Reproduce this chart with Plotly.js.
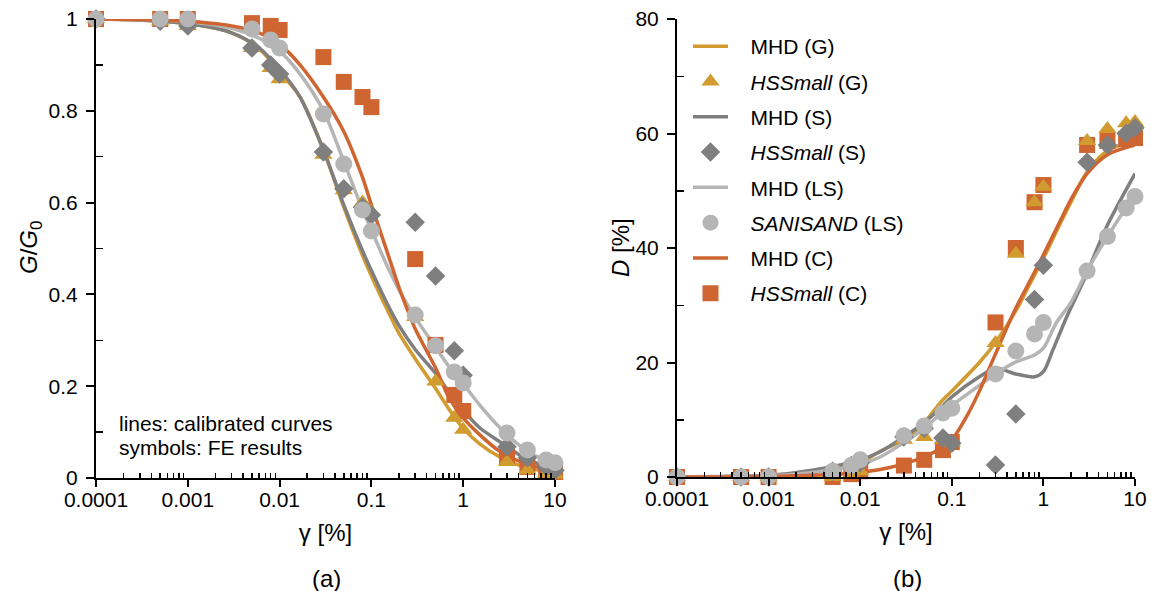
<!DOCTYPE html>
<html>
<head>
<meta charset="utf-8">
<script src="https://cdn.plot.ly/plotly-3.0.1.min.js"></script>
<style>html,body{margin:0;padding:0;background:#fff;}#chart{width:1151px;height:591px;}</style>
</head>
<body>
<div id="chart"></div>
<script>
// ---------- FE result strain levels (%) ----------
const gammaFE = [0.0001, 0.0005, 0.001, 0.005, 0.008, 0.01, 0.03, 0.05, 0.08, 0.1, 0.3, 0.5, 0.8, 1, 3, 5, 8, 10];

// ---------- (a) G/G0 symbols ----------
const gg0_HSS_G  = [1.0, 0.995, 0.985, 0.937, 0.893, 0.869, 0.704, 0.627, 0.600, 0.580, 0.351, 0.210, 0.131, 0.105, 0.035, 0.017, 0.010, 0.007];
const gg0_HSS_S  = [1.0, 0.995, 0.985, 0.937, 0.900, 0.880, 0.710, 0.630, 0.590, 0.573, 0.557, 0.440, 0.277, 0.224, 0.068, 0.044, 0.025, 0.017];
const gg0_SANI_LS = [1.0, 1.0, 1.0, 0.978, 0.954, 0.937, 0.793, 0.684, 0.584, 0.538, 0.355, 0.288, 0.231, 0.207, 0.098, 0.061, 0.039, 0.033];
const gg0_HSS_C  = [1.0, 1.0, 1.0, 0.991, 0.985, 0.976, 0.917, 0.863, 0.830, 0.808, 0.477, 0.290, 0.181, 0.146, 0.046, 0.024, 0.017, 0.013];

// ---------- (a) G/G0 calibrated curves ----------
const gammaCurveA = [0.0001, 0.0003, 0.001, 0.003, 0.006, 0.01, 0.0167, 0.03, 0.05, 0.08, 0.1, 0.15, 0.2, 0.3, 0.5, 0.7, 1, 1.5, 2.5, 5, 10];
const gg0_MHD_G  = [1.0, 0.998, 0.990, 0.970, 0.935, 0.885, 0.830, 0.715, 0.590, 0.485, 0.440, 0.365, 0.315, 0.260, 0.195, 0.150, 0.108, 0.075, 0.046, 0.022, 0.011];
const gg0_MHD_S  = [1.0, 0.998, 0.990, 0.970, 0.937, 0.890, 0.830, 0.715, 0.595, 0.495, 0.452, 0.378, 0.332, 0.280, 0.228, 0.187, 0.148, 0.110, 0.079, 0.040, 0.021];
const gg0_MHD_LS = [1.0, 0.999, 0.994, 0.980, 0.958, 0.930, 0.880, 0.800, 0.690, 0.585, 0.540, 0.460, 0.410, 0.350, 0.285, 0.243, 0.205, 0.160, 0.110, 0.058, 0.030];
const gg0_MHD_C  = [1.0, 0.999, 0.995, 0.985, 0.970, 0.945, 0.900, 0.830, 0.755, 0.655, 0.595, 0.490, 0.415, 0.325, 0.240, 0.175, 0.131, 0.095, 0.058, 0.030, 0.017];

// ---------- (b) D symbols (%) ----------
const d_HSS_G   = [0, 0, 0, 0, 0.5, 1, 6.5, 7, 6.5, 6, 23.4, 39, 48, 50.7, 58.7, 60.8, 61.8, 62];
const d_HSS_S   = [0, 0, 0, 1, 2, 2.5, 7, 8.5, 6.8, 5.9, 2.1, 11, 31, 37, 55, 58, 60, 61];
const d_SANI_LS = [0, 0, 0, 1, 2, 3, 7.2, 8.9, 11.2, 12, 18, 22, 25, 27, 36, 42, 47, 49];
const d_HSS_C   = [0, 0, 0, 0, 0.5, 1, 2, 3, 4.7, 6.1, 27, 40, 48, 51, 58, 58.7, 59, 59.2];

// ---------- (b) D calibrated curves (%) ----------
const gammaCurveB_G = [0.0001, 0.0003, 0.001, 0.003, 0.01, 0.0165, 0.03, 0.05, 0.075, 0.1, 0.2, 0.3, 0.5, 0.7, 1, 1.5, 2, 3, 5, 10];
const d_MHD_G       = [0, 0.05, 0.2, 0.8, 2.5, 4.5, 6.5, 9.5, 13, 15, 20, 23.5, 29, 33.5, 38.2, 44, 48, 53.3, 57, 58.8];
const gammaCurveB_C = [0.0001, 0.0003, 0.001, 0.003, 0.01, 0.0165, 0.03, 0.05, 0.075, 0.1, 0.15, 0.2, 0.3, 0.5, 0.7, 1, 1.5, 2, 3, 5, 10];
const d_MHD_C       = [0, 0.02, 0.1, 0.3, 0.8, 1.3, 2.3, 3.5, 5, 6.5, 11, 15, 21.5, 29.5, 34, 38.8, 44.5, 48.5, 53, 56.3, 58];
const gammaCurveB_S = [0.0001, 0.0003, 0.001, 0.003, 0.01, 0.0165, 0.03, 0.05, 0.075, 0.1, 0.2, 0.3, 0.5, 0.8, 1, 1.27, 1.8, 2.77, 5, 10];
const d_MHD_S       = [0, 0.1, 0.3, 1.2, 3, 4.4, 7, 9.5, 12, 14, 17.5, 19, 18, 17.5, 18.4, 22.2, 28, 34.4, 44, 53];
const gammaCurveB_LS = [0.0001, 0.0003, 0.001, 0.003, 0.01, 0.0165, 0.03, 0.05, 0.075, 0.1, 0.2, 0.3, 0.5, 0.8, 1, 1.38, 2, 3, 5, 8, 10];
const d_MHD_LS       = [0, 0.05, 0.2, 0.8, 2.2, 3.5, 6, 8.5, 11, 12.5, 16, 18, 20.1, 21.3, 22.5, 26.9, 30.5, 36, 42, 47, 49];

// ---------- tick labels ----------
const xTickVals = [0.0001, 0.001, 0.01, 0.1, 1, 10];
const xTickText = ['0.0001', '0.001', '0.01', '0.1', '1', '10'];
const yTickValsA = [0, 0.2, 0.4, 0.6, 0.8, 1];
const yTickTextA = ['0', '0.2', '0.4', '0.6', '0.8', '1'];
const yMinorA = [0.1, 0.3, 0.5, 0.7, 0.9];
const yTickValsB = [0, 20, 40, 60, 80];
const yMinorB = [10, 30, 50, 70];

const xMinor = [];
xTickVals.slice(0, -1).forEach(function (d) { for (let k = 2; k <= 9; k++) xMinor.push(+(d * k).toPrecision(3)); });

// ---------- styles ----------
const cGold = '#D29B2F', cGray = '#7F7F7F', cLight = '#B5B5B5', cOrange = '#CF6530';
const FONT = 'Liberation Sans, Arial, Helvetica, sans-serif';
const f21 = {family: FONT, size: 21, color: '#000'};
const f24 = {family: FONT, size: 24, color: '#000'};
const LW = 3.5;
const PAD = '\u00a0\u00a0\u00a0';

function lineTrace(x, y, color, name, xa, ya, rank, show) {
  return {x: x, y: y, xaxis: xa, yaxis: ya, type: 'scatter', mode: 'lines', name: PAD + name,
    line: {color: color, width: LW, shape: 'spline', smoothing: 0.8},
    showlegend: show, legendgroup: name, legendrank: rank, cliponaxis: false, hoverinfo: 'skip'};
}
function markTrace(x, y, color, symbol, size, name, xa, ya, rank, show) {
  return {x: x, y: y, xaxis: xa, yaxis: ya, type: 'scatter', mode: 'markers', name: PAD + name,
    marker: {color: color, symbol: symbol, size: size, line: {width: 0}},
    showlegend: show, legendgroup: name, legendrank: rank, cliponaxis: false, hoverinfo: 'skip'};
}

const nG = 'MHD (G)', nHG = '<i>HSSmall</i> (G)', nS = 'MHD (S)', nHS = '<i>HSSmall</i> (S)',
      nLS = 'MHD (LS)', nSL = '<i>SANISAND</i> (LS)', nC = 'MHD (C)', nHC = '<i>HSSmall</i> (C)';

const traces = [
  // (a) lines
  lineTrace(gammaCurveA, gg0_MHD_G, cGold, nG, 'x', 'y', 1, false),
  lineTrace(gammaCurveA, gg0_MHD_S, cGray, nS, 'x', 'y', 3, false),
  lineTrace(gammaCurveA, gg0_MHD_LS, cLight, nLS, 'x', 'y', 5, false),
  lineTrace(gammaCurveA, gg0_MHD_C, cOrange, nC, 'x', 'y', 7, false),
  // (b) lines
  lineTrace(gammaCurveB_G, d_MHD_G, cGold, nG, 'x2', 'y2', 1, true),
  lineTrace(gammaCurveB_S, d_MHD_S, cGray, nS, 'x2', 'y2', 3, true),
  lineTrace(gammaCurveB_LS, d_MHD_LS, cLight, nLS, 'x2', 'y2', 5, true),
  lineTrace(gammaCurveB_C, d_MHD_C, cOrange, nC, 'x2', 'y2', 7, true),
  // (a) symbols
  markTrace(gammaFE, gg0_HSS_C, cOrange, 'square', 16, nHC, 'x', 'y', 8, false),
  markTrace(gammaFE, gg0_HSS_G, cGold, 'triangle-up', 16, nHG, 'x', 'y', 2, false),
  markTrace(gammaFE, gg0_HSS_S, cGray, 'diamond', 15, nHS, 'x', 'y', 4, false),
  markTrace(gammaFE, gg0_SANI_LS, cLight, 'circle', 17, nSL, 'x', 'y', 6, false),
  // (b) symbols
  markTrace(gammaFE, d_HSS_C, cOrange, 'square', 16, nHC, 'x2', 'y2', 8, true),
  markTrace(gammaFE, d_HSS_G, cGold, 'triangle-up', 16, nHG, 'x2', 'y2', 2, true),
  markTrace(gammaFE, d_HSS_S, cGray, 'diamond', 15, nHS, 'x2', 'y2', 4, true),
  markTrace(gammaFE, d_SANI_LS, cLight, 'circle', 17, nSL, 'x2', 'y2', 6, true)
];

const W = 1151, H = 591;
const domXA = [96 / W, 555 / W], domXB = [677 / W, 1135 / W];
const domYA = [(H - 478) / H, (H - 19) / H], domYB = [(H - 477) / H, (H - 19) / H];

function xAxis(dom, anchor, title) {
  return {type: 'log', domain: dom, range: [-4, 1], anchor: anchor,
    showline: true, linewidth: 2, linecolor: '#000', showgrid: false, zeroline: false,
    ticks: 'outside', ticklen: 7, tickwidth: 2, tickcolor: '#000',
    tickmode: 'array', tickvals: xTickVals, ticktext: xTickText, tickfont: f21, ticklabelstandoff: -5,
    minor: {ticks: 'inside', ticklen: 5, tickwidth: 1.5, tickcolor: '#000', tickmode: 'array', tickvals: xMinor, showgrid: false},
    title: {text: title, font: f24, standoff: 14}, automargin: false, fixedrange: true};
}
function xOver(over, anchor, dom) {
  return {type: 'log', overlaying: over, anchor: anchor, domain: dom, range: [-4, 1],
    showline: false, showgrid: false, zeroline: false, showticklabels: false,
    ticks: 'inside', ticklen: 8, tickwidth: 2, tickcolor: '#000', tickmode: 'array', tickvals: xTickVals, fixedrange: true};
}
function yAxis(dom, anchor, range, tv, tt, minor) {
  const a = {domain: dom, range: range, anchor: anchor,
    showline: true, linewidth: 2, linecolor: '#000', showgrid: false, zeroline: false,
    ticks: 'outside', ticklen: 8, tickwidth: 2, tickcolor: '#000',
    tickmode: 'array', tickvals: tv, tickfont: f21, ticklabelstandoff: 4,
    minor: {ticks: 'inside', ticklen: 7, tickwidth: 1.5, tickcolor: '#000', tickmode: 'array', tickvals: minor, showgrid: false},
    automargin: false, fixedrange: true};
  if (tt) a.ticktext = tt;
  return a;
}
function yOver(over, anchor, range, tv) {
  return {overlaying: over, anchor: anchor, range: range,
    showline: false, showgrid: false, zeroline: false, showticklabels: false,
    ticks: 'inside', ticklen: 7, tickwidth: 2, tickcolor: '#000', tickmode: 'array', tickvals: tv, fixedrange: true};
}

function pAnn(text, px, py, font, extra) {
  return Object.assign({text: text, x: px / W, y: 1 - py / H, xref: 'paper', yref: 'paper',
    xanchor: 'center', yanchor: 'middle', showarrow: false, font: font}, extra || {});
}

const layout = {
  width: W, height: H, margin: {l: 0, r: 0, t: 0, b: 0},
  paper_bgcolor: '#fff', plot_bgcolor: 'rgba(0,0,0,0)',
  font: f21, showlegend: true,
  xaxis: xAxis(domXA, 'y', 'γ [%]'),
  yaxis: yAxis(domYA, 'x', [0, 1], yTickValsA, yTickTextA, yMinorA),
  xaxis2: xAxis(domXB, 'y2', 'γ [%]'),
  yaxis2: yAxis(domYB, 'x2', [0, 80], yTickValsB, null, yMinorB),
  xaxis3: xOver('x', 'y', domXA),
  yaxis3: yOver('y', 'x', [0, 1], yTickValsA),
  xaxis4: xOver('x2', 'y2', domXB),
  yaxis4: yOver('y2', 'x2', [0, 80], yTickValsB),
  legend: {x: 688 / W, y: 1 - 26 / H, xanchor: 'left', yanchor: 'top', font: f21,
    bgcolor: 'rgba(0,0,0,0)', borderwidth: 0, itemwidth: 35, tracegroupgap: 5, itemclick: false, itemdoubleclick: false},
  annotations: [
    pAnn('<i>G</i>/<i>G</i><sub>0</sub>', 30, 247, f24, {textangle: -90}),
    pAnn('<i>D</i> [%]', 620, 248, f24, {textangle: -90}),
    pAnn('lines: calibrated curves', 117, 423, f21, {xanchor: 'left'}),
    pAnn('symbols: FE results', 117, 447, f21, {xanchor: 'left'}),
    pAnn('(a)', 326, 578, f24),
    pAnn('(b)', 907, 578, f24)
  ]
};

Plotly.newPlot('chart', traces, layout, {displayModeBar: false, staticPlot: true});
</script>
</body>
</html>
